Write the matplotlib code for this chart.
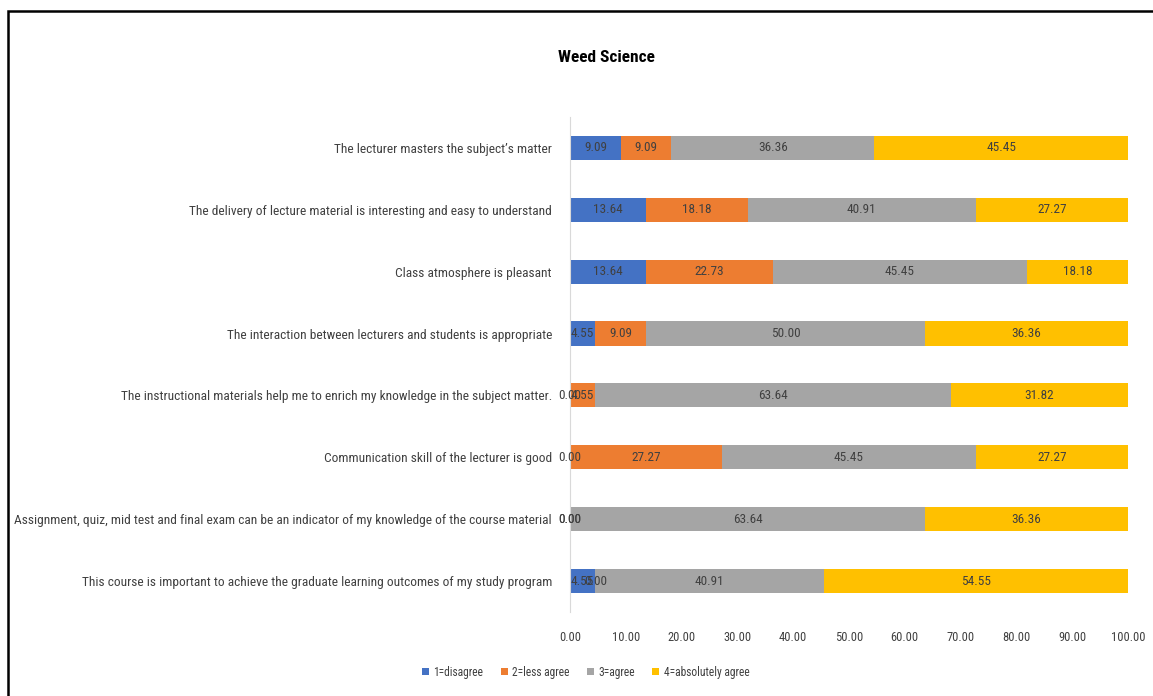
import numpy as np
import matplotlib
matplotlib.use("Agg")
import matplotlib.pyplot as plt
from matplotlib.patches import Rectangle

plt.rcParams['font.family'] = ['Roboto Condensed', 'DejaVu Sans']

categories = [
    "The lecturer masters the subject\u2019s matter",
    "The delivery of lecture material is interesting and easy to understand",
    "Class atmosphere is pleasant",
    "The interaction between lecturers and students is appropriate",
    "The instructional materials help me to enrich my knowledge in the subject matter.",
    "Communication skill of the lecturer is good",
    "Assignment, quiz, mid test and final exam can be an indicator of my knowledge of the course material",
    "This course is important to achieve the graduate learning outcomes of my study program",
]
disagree = [9.09, 13.64, 13.64, 4.55, 0.00, 0.00, 0.00, 4.55]
less_agree = [9.09, 18.18, 22.73, 9.09, 4.55, 27.27, 0.00, 0.00]
agree = [36.36, 40.91, 45.45, 50.00, 63.64, 45.45, 63.64, 40.91]
absolutely = [45.45, 27.27, 18.18, 36.36, 31.82, 27.27, 36.36, 54.55]

series = [disagree, less_agree, agree, absolutely]
names = ["1=disagree", "2=less agree", "3=agree", "4=absolutely agree"]
colors = ["#4472C4", "#ED7D31", "#A5A5A5", "#FFC000"]
xticks = np.arange(0, 101, 10)

fig = plt.figure(figsize=(11.53, 6.96), dpi=100)
ax = fig.add_axes([0.4944, 0.1207, 0.4839, 0.7112])

y = np.arange(len(categories))
left = np.zeros(len(categories))
for vals, name, col in zip(series, names, colors):
    vals = np.array(vals)
    ax.barh(y, vals, left=left, height=0.39, color=col, label=name)
    # data labels centred on each segment, zero-width ones included
    for yi, l, v in zip(y, left, vals):
        ax.text(l + v / 2, yi, "%.2f" % v, ha="center", va="center",
                fontsize=9.5, color="#404040")
    left += vals

ax.set_ylim(len(categories) - 0.5, -0.5)
ax.set_xlim(0, 100)
ax.set_yticks(y)
ax.set_yticklabels(categories, fontsize=9.6, color="#404040")
ax.set_xticks(xticks)
ax.set_xticklabels(["%.2f" % t for t in xticks], fontsize=9, color="#404040")
ax.tick_params(axis="both", length=0)
ax.tick_params(axis="x", pad=14)
ax.tick_params(axis="y", pad=13)
for s in ["top", "right", "bottom"]:
    ax.spines[s].set_visible(False)
ax.spines["left"].set_color("#D9D9D9")

fig.text(0.526, 0.918, "Weed Science", ha="center", va="center",
         fontsize=12.5, fontweight="bold", color="#000000")

fig.legend(loc="center", bbox_to_anchor=(0.508, 0.034), ncol=4, frameon=False,
           fontsize=8.3, handlelength=0.6, handleheight=0.6, handletextpad=0.4,
           columnspacing=1.5, labelcolor="#404040")

fig.patches.append(Rectangle((8 / 1153, -0.01), 1.0, 1 - 11 / 696 + 0.01,
                             transform=fig.transFigure, fill=False,
                             edgecolor="black", linewidth=1.8))

fig.savefig("out.png", dpi=100)
